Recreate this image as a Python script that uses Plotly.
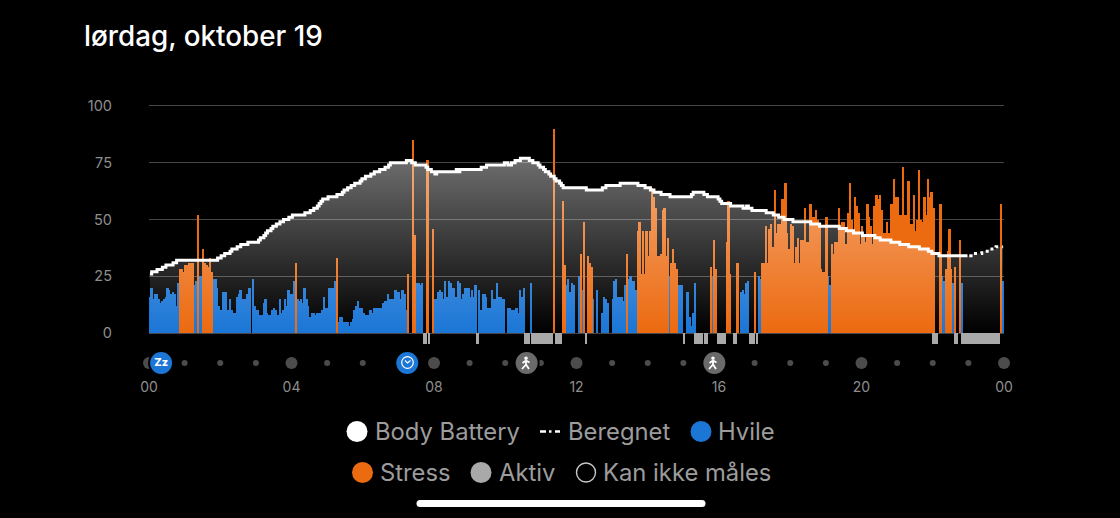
import plotly.graph_objects as go

# Three-minute bins; positive = Hvile (rest), negative = Stress, 0 = nothing drawn.
level_00 = [16,20,15,17,17,15,13,14,15,16,20,19,17,18,17,12,22,-28,-28,-27,-30,-30,-31,-31,-31,21,23,-52,25,25,-37,-31,-30,-29,-33,-27,24,24,20,12]
level_02 = [10,18,18,18,10,15,10,9,9,16,17,19,15,15,15,17,20,0,24,12,10,10,8,8,13,15,9,8,8,10,11,10,8,15,9,10,15,12,19,17]
level_04 = [17,23,-31,15,14,15,13,20,15,12,7,9,9,8,9,9,9,10,16,11,11,20,20,20,23,-33,5,7,7,5,5,5,3,5,6,10,12,14,11,11]
level_06 = [9,8,8,8,10,9,11,11,11,11,11,13,14,14,17,15,15,15,19,18,18,15,19,17,10,-26,0,0,-85,-43,22,22,21,22,0,0,-76,0,0,-46]
level_08 = [15,15,18,19,18,15,23,16,23,22,20,20,16,23,22,15,17,20,20,20,16,19,16,21,0,19,10,17,17,16,11,11,19,15,15,22,16,16,15,15]
level_10 = [0,11,11,10,10,10,11,9,19,16,20,0,0,0,22,0,0,0,0,0,0,0,0,0,0,0,0,-90,0,0,0,0,-58,-30,21,24,18,22,21,0]
level_12 = [0,25,-35,19,-49,0,-34,-31,-29,15,0,19,0,0,9,16,15,13,0,0,15,23,24,16,16,16,14,21,-35,24,25,23,23,19,-45,-49,-26,-45,-26,-45]
level_14 = [-34,-45,-64,-60,-55,-34,-34,-35,-54,-55,-34,-42,25,-31,-37,-31,-28,21,21,21,0,0,18,7,3,9,22,0,0,0,0,0,0,0,0,-29,25,-41,-28,0]
level_16 = [0,0,0,0,-40,-58,-26,0,0,0,-31,0,18,19,17,22,23,0,0,0,-27,0,25,24,-31,-31,-47,-31,-46,-48,-38,-63,-44,-48,-48,-59,-59,-66,-44,-37]
level_18 = [-48,-47,-31,-38,-42,-31,-41,-41,-55,-40,-40,-57,-51,-51,-54,-50,-47,-28,-27,-27,-51,25,21,-39,-35,-40,-40,-55,-47,-49,-49,-39,-53,-66,-50,-44,-60,-56,-53,-39]
level_20 = [-47,-43,-40,-57,-51,-47,-39,-56,-61,-59,-61,-54,-44,-44,-49,-44,-57,-57,-68,-60,-60,-52,-52,-73,-52,-52,-67,-48,-48,-61,-45,-50,-72,-50,-49,-60,-52,-68,-60,-62]
level_22 = [-55,0,0,0,-57,25,23,-28,-36,-46,-28,22,-29,0,0,-41,22,0,0,0,0,0,0,0,0,0,0,0,0,0,0,0,0,0,0,0,0,0,-57,23]

battery_00 = [26,27,27,27,28,28,28,29,29,30,30,30,30,31,31,32,32,32,32,32,32,32,32,32,32,32,32,32,32,32,32,32,32,32,32,32,32,32,33,33]
battery_02 = [34,34,35,35,35,36,37,37,37,38,38,39,39,39,39,40,40,40,40,40,40,41,42,42,43,44,45,45,46,47,47,48,48,49,49,50,50,50,51,51]
battery_04 = [52,52,52,52,52,52,52,53,53,53,54,54,55,55,56,57,58,59,59,59,60,60,60,60,60,61,61,61,62,63,63,64,64,65,65,66,66,66,67,68]
battery_06 = [68,69,69,69,70,70,71,71,71,72,72,72,73,73,74,75,75,75,75,75,75,75,75,75,76,76,76,75,75,74,74,74,74,74,74,73,72,72,71,71]
battery_08 = [70,71,71,71,71,71,71,71,71,71,71,71,72,71,72,72,72,72,72,72,72,72,72,72,72,72,73,73,73,74,74,74,74,74,74,74,74,74,74,75]
battery_10 = [75,74,74,75,75,76,76,76,77,77,77,77,77,76,76,75,75,75,74,73,73,72,71,71,70,69,69,68,67,67,66,65,64,64,64,64,64,64,64,64]
battery_12 = [64,64,64,64,64,63,63,63,63,63,63,63,63,63,64,64,65,65,65,65,65,65,65,65,66,66,66,66,66,66,66,66,66,66,65,65,65,65,64,64]
battery_14 = [64,63,63,62,62,62,62,61,61,61,61,61,60,60,60,60,60,60,60,60,60,60,60,60,61,62,62,62,62,62,62,61,61,60,60,60,60,60,60,59]
battery_16 = [58,57,57,57,57,57,56,56,56,56,56,56,56,55,55,56,55,55,54,54,54,54,54,54,54,54,53,53,53,53,52,52,52,51,51,51,50,50,50,50]
battery_18 = [50,49,49,49,49,49,49,49,49,49,49,48,48,48,48,48,47,47,47,47,47,47,47,47,47,47,47,46,46,46,46,45,45,45,45,44,44,44,44,44]
battery_20 = [43,43,43,43,43,43,43,42,42,42,41,41,41,41,41,41,40,40,40,40,40,39,39,39,39,39,38,38,38,38,38,38,37,37,37,37,37,36,36,35]
battery_22 = [35,35,35,34,34,34,34,34,34,34,34,34,34,34,34,34,34,34,34,34,34,35,35,35,35,35,35,36,36,36,36,37,37,37,37,38,38,38,38,38]
measured_bins = 460  # bins measured; the rest of the day is "Beregnet"

active_bins = [154,155,157,184,211,212,213,215,216,217,218,219,220,221,222,223,224,225,226,228,229,230,231,245,300,
               306,307,308,309,310,312,313,319,320,321,322,323,328,329,337,338,339,341,440,441,442,452,453,
               456,457,458,459,460,461,462,463,464,465,466,467,468,469,470,471,472,473,474,475,476,477]

hour_marks = list(range(0, 25))
major_hours = [0, 4, 8, 12, 16, 20, 24]
major_labels = ["00", "04", "08", "12", "16", "20", "00"]
y_ticks = [0, 25, 50, 75, 100]
event_hours = [0.34, 7.25, 10.6, 15.87]

BIN_H = 0.05
level = (level_00 + level_02 + level_04 + level_06 + level_08 + level_10 +
         level_12 + level_14 + level_16 + level_18 + level_20 + level_22)
battery = (battery_00 + battery_02 + battery_04 + battery_06 + battery_08 + battery_10 +
           battery_12 + battery_14 + battery_16 + battery_18 + battery_20 + battery_22)
hours = [(i + 0.5) * BIN_H for i in range(len(level))]
rest = [v if v > 0 else None for v in level]
stress = [-v if v < 0 else None for v in level]

BLUE, ORANGE, GREY = "#1b76d6", "#ec6a10", "#a9a9a9"
TXT = "#8e8e8e"
LEG = "#9c9c9c"
L, R, T, B = 149, 1004, 100, 375
EVENT_Y = -13.2
STRIP_Y = -5


def px(x):
    return (x - L) / (R - L)


def py(y):
    return (B - y) / (B - T)


fig = go.Figure()
fig.add_bar(x=hours, y=rest, width=BIN_H, marker=dict(color=BLUE, line_width=0), name="Hvile")
fig.add_bar(x=hours, y=stress, width=BIN_H, marker=dict(color=ORANGE, line_width=0), name="Stress")
fig.add_bar(x=[(i + 0.5) * BIN_H for i in active_bins], y=[STRIP_Y] * len(active_bins), width=BIN_H,
            marker=dict(color=GREY, line_width=0), name="Aktiv")
fig.add_scatter(x=hours, y=battery, mode="none", fill="tozeroy", line_shape="hv", name="area",
                fillgradient=dict(type="vertical", start=0, stop=77,
                                  colorscale=[[0, "rgba(255,255,255,0)"], [1, "rgba(255,255,255,0.43)"]]))
fig.add_scatter(x=hours[:measured_bins], y=battery[:measured_bins], mode="lines", name="Body Battery",
                line=dict(color="white", width=3, shape="hv"))
fig.add_scatter(x=hours[measured_bins:], y=battery[measured_bins:], mode="lines", name="Beregnet",
                line=dict(color="white", width=3, shape="hv", dash="3px,4px"))
fig.add_scatter(x=hour_marks, y=[EVENT_Y] * len(hour_marks), mode="markers", cliponaxis=False, name="t",
                marker=dict(color="#6c6c6c", size=[12 if h in major_hours else 6 for h in hour_marks], line_width=0))
fig.add_scatter(x=event_hours, y=[EVENT_Y] * 4, mode="markers", cliponaxis=False, name="e",
                marker=dict(color=[BLUE, BLUE, "#6a6a6a", "#6a6a6a"], size=24, line=dict(color="black", width=2)))
fig.add_scatter(x=event_hours[:1], y=[EVENT_Y], mode="text", cliponaxis=False, name="sleep",
                text=["Zz"], textposition="middle center",
                textfont=dict(color="white", size=11, family="Inter", weight=800))

shapes = []


def centered_circle(cx, cy, r, fill, line=None, w=0):
    shapes.append(dict(type="circle", xref="paper", yref="paper", xsizemode="pixel", ysizemode="pixel",
                       xanchor=px(cx), yanchor=py(cy), x0=-r, x1=r, y0=-r, y1=r,
                       fillcolor=fill, line=dict(color=line or fill, width=w)))


def icon_path(cx, cy, path, fill="rgba(0,0,0,0)", line="white", w=1.5):
    shapes.append(dict(type="path", xref="paper", yref="paper", xsizemode="pixel", ysizemode="pixel",
                       xanchor=px(cx), yanchor=py(cy), path=path, fillcolor=fill, line=dict(color=line, width=w)))


# clock icon
centered_circle(407.5, 362.5, 5.8, "rgba(0,0,0,0)", "white", 1.2)
icon_path(407.5, 362.5, "M -2.5 2 L 0 -0.5 L 3 2", w=1.1)
# walker icons
for cx in (526, 713):
    centered_circle(cx, 363 - 4.8, 1.8, "white")
    icon_path(cx, 363, "M 0 2.5 L 0 -1.5 L -4 -6 M 0 -1.5 L 3 -6 M 0 2.5 L -3.5 0 M 0 2.5 L 3.5 0.5", w=1.8)

# legend markers
centered_circle(357, 431.5, 10.5, "white")
centered_circle(701, 431.5, 10.5, BLUE)
centered_circle(362.5, 472.5, 10.5, ORANGE)
centered_circle(481, 472.5, 10.5, GREY)
centered_circle(586, 472.5, 9.5, "black", "#c8c8c8", 1.4)
for x0, x1 in ((540, 546), (549, 551.5), (555, 560)):
    shapes.append(dict(type="line", xref="paper", yref="paper", x0=px(x0), x1=px(x1), y0=py(431.5), y1=py(431.5),
                       line=dict(color="white", width=2.5)))
# home indicator
icon_path(561, 503.5,
          "M -141 3.5 L 141 3.5 Q 144.5 3.5 144.5 0 Q 144.5 -3.5 141 -3.5 L -141 -3.5 Q -144.5 -3.5 -144.5 0 Q -144.5 3.5 -141 3.5 Z",
          fill="white", line="white", w=0)

annotations = [dict(text="lørdag, oktober 19", x=px(82), y=py(36), xref="paper", yref="paper", xanchor="left",
                    yanchor="middle", showarrow=False,
                    font=dict(family="Inter", size=27.8, color="white", weight=500))]
for label, x, y in (("Body Battery", 375, 431.5), ("Beregnet", 568, 431.5), ("Hvile", 718, 431.5),
                    ("Stress", 380, 472.5), ("Aktiv", 499, 472.5), ("Kan ikke måles", 603, 472.5)):
    annotations.append(dict(text=label, x=px(x), y=py(y), xref="paper", yref="paper", xanchor="left", yanchor="middle",
                            showarrow=False, xshift=-2, font=dict(family="Inter", size=23.8, color=LEG)))

fig.update_layout(
    width=1120, height=518, autosize=False, showlegend=False, barmode="overlay", bargap=0,
    paper_bgcolor="black", plot_bgcolor="black",
    margin=dict(l=L, r=1120 - R, t=T, b=518 - B, pad=0),
    shapes=shapes, annotations=annotations,
    xaxis=dict(range=[0, 24], tickmode="array", tickvals=major_hours, ticktext=major_labels, showgrid=False,
               zeroline=False, showline=False, ticks="", tickfont=dict(family="Inter", size=14, color=TXT),
               ticklabelstandoff=2, fixedrange=True),
    yaxis=dict(range=[-18.5, 102.64], tickmode="array", tickvals=y_ticks, ticktext=[str(v) for v in y_ticks],
               showgrid=True, gridcolor="#474747", gridwidth=1, zeroline=False, showline=False, ticks="",
               tickfont=dict(family="Inter", size=14.5, color=TXT), ticklabelstandoff=36, fixedrange=True),
)

fig.write_html("out.html", config=dict(displayModeBar=False),
               post_script="document.body.style.margin='0';document.body.style.background='black';document.documentElement.style.overflow='hidden';")
